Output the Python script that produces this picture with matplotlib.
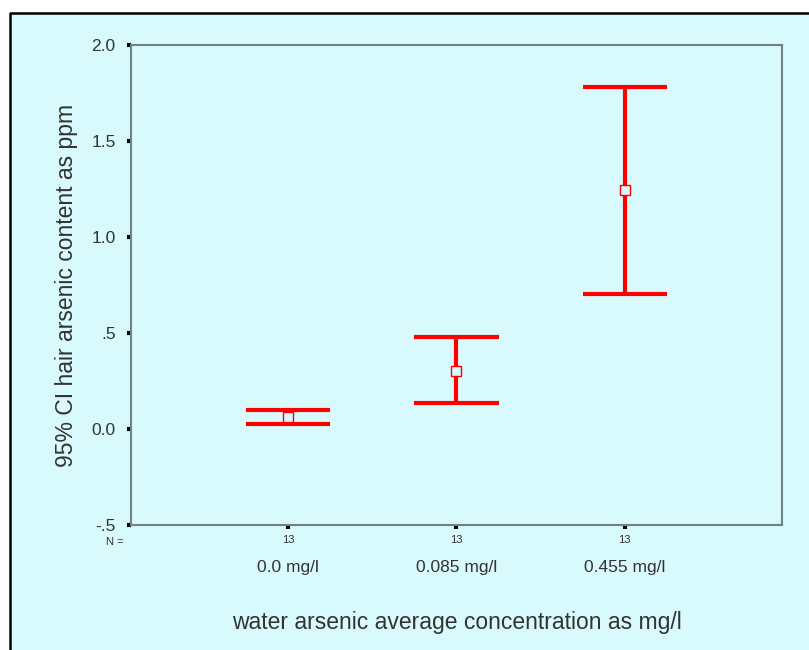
import matplotlib.pyplot as plt
from matplotlib.patches import Rectangle
from matplotlib.lines import Line2D

# === Data ===
groups = ["0.0 mg/l", "0.085 mg/l", "0.455 mg/l"]
n_counts = [13, 13, 13]
means = [0.065, 0.302, 1.245]
ci_low = [0.026, 0.135, 0.703]
ci_high = [0.099, 0.479, 1.780]

BG = "#d8fafc"
RED = "#ff0000"
TXT = "#333333"

plt.rcParams['font.family'] = ['Liberation Sans', 'DejaVu Sans']

fig = plt.figure(figsize=(8.09, 6.5), dpi=100)
fig.patch.set_facecolor("white")

# cyan panel with black top/left border
fig.patches.append(Rectangle((10 / 809, 0), 1, 1 - 13 / 650, transform=fig.transFigure,
                             facecolor=BG, edgecolor="none", zorder=-10))
fig.lines.append(Line2D([10 / 809, 10 / 809, 1], [0, 1 - 13 / 650, 1 - 13 / 650],
                        transform=fig.transFigure, color="black", lw=1.8, zorder=-5))

ax = fig.add_axes([131 / 809, 1 - 525 / 650, 651 / 809, 480 / 650])
ax.set_facecolor(BG)

x = [1, 2, 3]
for xi, m, lo, hi in zip(x, means, ci_low, ci_high):
    ax.plot([xi, xi], [lo, hi], color=RED, lw=3, solid_capstyle="butt")
    ax.plot([xi - 0.25, xi + 0.25], [lo, lo], color=RED, lw=3, solid_capstyle="butt")
    ax.plot([xi - 0.25, xi + 0.25], [hi, hi], color=RED, lw=3, solid_capstyle="butt")
    ax.plot(xi, m, marker="s", ms=7, mfc=BG, mec=RED, mew=1)

ax.set_xlim(1 - 0.935, 3 + 0.935)
ax.set_ylim(-0.5, 2.0)
ax.set_yticks([-0.5, 0.0, 0.5, 1.0, 1.5, 2.0])
ax.set_yticklabels(["-.5", "0.0", ".5", "1.0", "1.5", "2.0"], fontsize=12.5, color=TXT)
ax.set_xticks(x)
ax.set_xticklabels([str(n) for n in n_counts], fontsize=8, color=TXT)

for s in ax.spines.values():
    s.set_color("#6f8383")
    s.set_linewidth(1.5)
ax.tick_params(axis="y", length=3, width=3, color="black", pad=8)
ax.tick_params(axis="x", length=3, width=3, color="black", pad=4)

ax.text(-0.012, -0.025, "N =", transform=ax.transAxes, ha="right", va="top",
        fontsize=8, color=TXT)
for xi, g in zip(x, groups):
    ax.text(xi, -0.072, g, transform=ax.get_xaxis_transform(), ha="center", va="top",
            fontsize=12.5, color=TXT)

ax.set_xlabel("water arsenic average concentration as mg/l", fontsize=16.5, color=TXT,
              labelpad=0)
ax.xaxis.set_label_coords(0.5, -0.18)
ax.set_ylabel("95% CI hair arsenic content as ppm", fontsize=16.5, color=TXT)
ax.yaxis.set_label_coords(-0.082, 0.5)

fig.savefig("out.png", dpi=100, facecolor=fig.get_facecolor())
